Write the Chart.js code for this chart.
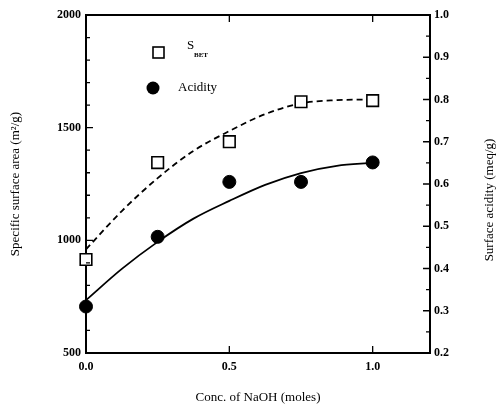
<!DOCTYPE html>
<html>
<head>
<meta charset="utf-8">
<script src="https://cdn.jsdelivr.net/npm/chart.js@4"></script>
<style>
  html, body { margin: 0; padding: 0; background: #fff; }
  #wrap { width: 504px; height: 409px; }
</style>
</head>
<body>
<div id="wrap"><canvas id="chart" width="504" height="409"></canvas></div>
<script>
// measured points
const naoh = [0.0, 0.25, 0.5, 0.75, 1.0];
const betArea = [915, 1345, 1438, 1615, 1620];      // m2/g, left axis
const acidity = [0.31, 0.475, 0.605, 0.605, 0.651];  // meq/g, right axis

// fitted curves
const fitX = [0.0, 0.125, 0.25, 0.375, 0.5, 0.625, 0.75, 0.875, 1.0];
const betFit = [960, 1130, 1276, 1397, 1485, 1560, 1608, 1622, 1625];
const acidityFit = [0.325, 0.399, 0.463, 0.518, 0.56, 0.598, 0.626, 0.643, 0.65];

const xLabels = [0.0, 0.5, 1.0];

const SERIF = '"Liberation Serif", "DejaVu Serif", serif';
const pts = (xs, ys) => xs.map((x, i) => ({ x, y: ys[i] }));

// inward ticks, the top frame line, legend and the right-hand title
const frame = {
  id: 'frame',
  afterDraw(chart) {
    const { ctx, chartArea: a, scales } = chart;
    ctx.save();
    ctx.strokeStyle = '#000';
    ctx.lineWidth = 2;
    ctx.beginPath();
    ctx.moveTo(a.left, a.top);
    ctx.lineTo(a.right, a.top);
    ctx.stroke();

    ctx.lineWidth = 1.3;
    ctx.beginPath();
    for (let v = 500; v <= 2000; v += 100) {
      const y = scales.y.getPixelForValue(v);
      const len = v % 500 === 0 ? 7 : 4;
      ctx.moveTo(a.left, y); ctx.lineTo(a.left + len, y);
    }
    for (let i = 4; i <= 20; i++) {
      const y = scales.y1.getPixelForValue(i / 20);
      const len = i % 2 === 0 ? 7 : 4;
      ctx.moveTo(a.right, y); ctx.lineTo(a.right - len, y);
    }
    xLabels.forEach(v => {
      const x = scales.x.getPixelForValue(v);
      ctx.moveTo(x, a.bottom); ctx.lineTo(x, a.bottom - 7);
      ctx.moveTo(x, a.top); ctx.lineTo(x, a.top + 7);
    });
    ctx.stroke();

    // legend
    ctx.lineWidth = 1.6;
    ctx.strokeRect(153, 47, 11, 11);
    ctx.beginPath();
    ctx.arc(153, 88, 6.5, 0, Math.PI * 2);
    ctx.fillStyle = '#000';
    ctx.fill();
    ctx.font = '13px ' + SERIF;
    ctx.textBaseline = 'middle';
    ctx.fillText('S', 187, 46);
    ctx.font = 'bold 7px ' + SERIF;
    ctx.fillText('BET', 194, 55);
    ctx.font = '13px ' + SERIF;
    ctx.fillText('Acidity', 178, 88);

    // right axis title, reading bottom to top
    ctx.translate(490, 200);
    ctx.rotate(-Math.PI / 2);
    ctx.textAlign = 'center';
    ctx.fillText('Surface acidity (meq/g)', 0, 0);
    ctx.restore();
  }
};

new Chart(document.getElementById('chart'), {
  type: 'scatter',
  data: {
    datasets: [
      {
        label: 'S BET',
        data: pts(naoh, betArea),
        yAxisID: 'y',
        pointStyle: 'rect',
        pointRadius: 8.2,
        pointBorderWidth: 1.6,
        pointBackgroundColor: '#fff',
        pointBorderColor: '#000',
        clip: false,
        order: 0
      },
      {
        label: 'Acidity',
        data: pts(naoh, acidity),
        yAxisID: 'y1',
        pointStyle: 'circle',
        pointRadius: 6.5,
        pointBackgroundColor: '#000',
        pointBorderColor: '#000',
        clip: false,
        order: 0
      },
      {
        type: 'line',
        label: 'BET fit',
        data: pts(fitX, betFit),
        yAxisID: 'y',
        borderColor: '#000',
        borderWidth: 1.8,
        borderDash: [6, 4],
        pointRadius: 0,
        cubicInterpolationMode: 'monotone',
        order: 1
      },
      {
        type: 'line',
        label: 'Acidity fit',
        data: pts(fitX, acidityFit),
        yAxisID: 'y1',
        borderColor: '#000',
        borderWidth: 1.8,
        pointRadius: 0,
        cubicInterpolationMode: 'monotone',
        order: 1
      }
    ]
  },
  options: {
    responsive: false,
    animation: false,
    layout: { padding: { top: 15, left: 0, right: 0, bottom: 0 } },
    plugins: { legend: { display: false }, tooltip: { enabled: false } },
    scales: {
      x: {
        type: 'linear',
        min: 0, max: 1.2,
        afterFit: s => { s.height = 56; },
        afterBuildTicks: s => { s.ticks = xLabels.map(v => ({ value: v })); },
        grid: { display: false, drawTicks: false },
        border: { display: true, color: '#000', width: 2 },
        ticks: {
          padding: 7,
          color: '#000',
          font: { family: SERIF, size: 12, weight: 'bold' },
          callback: v => v.toFixed(1)
        },
        title: {
          display: true,
          text: 'Conc. of NaOH (moles)',
          color: '#000',
          font: { family: SERIF, size: 13 },
          padding: { top: 14 }
        }
      },
      y: {
        position: 'left',
        min: 500, max: 2000,
        afterFit: s => { s.width = 86; },
        grid: { display: false, drawTicks: false },
        border: { display: true, color: '#000', width: 2 },
        ticks: {
          stepSize: 500,
          padding: 5,
          color: '#000',
          font: { family: SERIF, size: 12, weight: 'bold' },
          callback: v => String(v)
        },
        title: {
          display: true,
          text: 'Specific surface area (m²/g)',
          color: '#000',
          font: { family: SERIF, size: 13 },
          padding: { top: 8, bottom: 0 }
        }
      },
      y1: {
        position: 'right',
        min: 0.2, max: 1.0,
        afterFit: s => { s.width = 74; },
        grid: { display: false, drawTicks: false },
        border: { display: true, color: '#000', width: 2 },
        ticks: {
          stepSize: 0.1,
          padding: 4,
          color: '#000',
          font: { family: SERIF, size: 12, weight: 'bold' },
          callback: v => v.toFixed(1)
        }
      }
    }
  },
  plugins: [frame]
});
</script>
</body>
</html>
